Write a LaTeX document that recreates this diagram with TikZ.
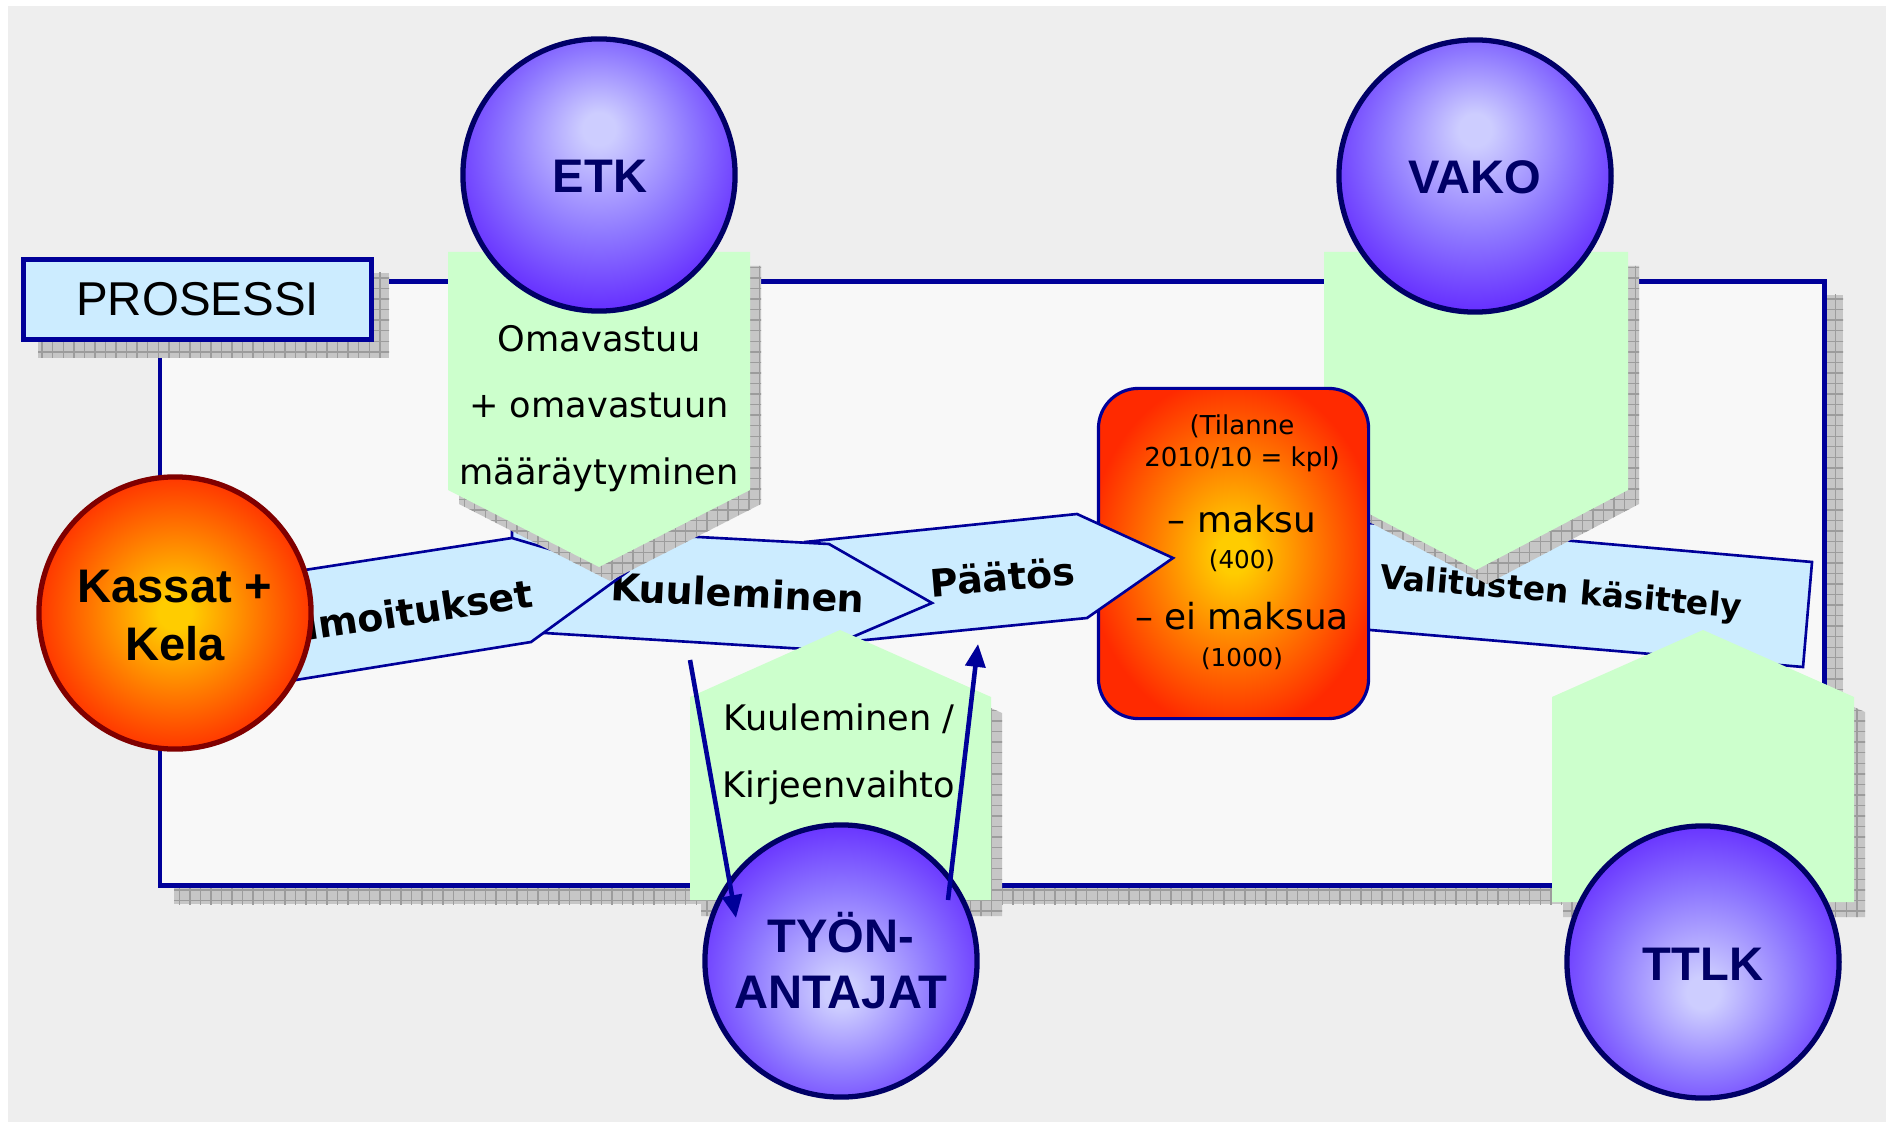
\documentclass[tikz,border=0pt]{standalone}
\usepackage{fontspec}
\setmainfont{DejaVu Sans}
\newfontfamily\arialf{Liberation Sans}
\usetikzlibrary{patterns,arrows.meta}
\definecolor{bggray}{HTML}{EEEEEE}
\definecolor{framein}{HTML}{F8F8F8}
\definecolor{navy}{HTML}{000099}
\definecolor{dnavy}{HTML}{000066}
\definecolor{lblue}{HTML}{CCECFF}
\definecolor{lgreen}{HTML}{CCFFCC}
\definecolor{shc}{HTML}{C6C6C6}
\definecolor{shl}{HTML}{9C9C9C}
\definecolor{lavc}{HTML}{CDCDFF}
\definecolor{midv}{HTML}{8E78FF}
\definecolor{edgev}{HTML}{5A1AFF}
\definecolor{fy}{HTML}{FFCC00}
\definecolor{fo}{HTML}{FF7A00}
\definecolor{fr}{HTML}{FF2A00}
\definecolor{dred}{HTML}{800000}
\pgfdeclareradialshading{violup}{\pgfpoint{0bp}{9bp}}{color(0bp)=(lavc); color(3bp)=(lavc); color(17bp)=(midv); color(32bp)=(edgev); color(50bp)=(edgev)}
\pgfdeclareradialshading{violdown}{\pgfpoint{0bp}{-6bp}}{color(0bp)=(lavc); color(3bp)=(lavc); color(17bp)=(midv); color(32bp)=(edgev); color(50bp)=(edgev)}
\pgfdeclareradialshading{fireball}{\pgfpoint{0bp}{0bp}}{color(0bp)=(fy); color(3bp)=(fy); color(15bp)=(fo); color(27bp)=(fr); color(50bp)=(fr)}
\tikzset{
 shadowbox/.style={fill=shc, postaction={pattern=grid, pattern color=shl}},
 framestyle/.style={draw=navy, line width=1.4pt, fill=framein},
 prosbox/.style={draw=navy, line width=1.4pt, fill=lblue, minimum width=3.47cm, minimum height=0.8cm, font=\arialf\fontsize{13.5}{16}\selectfont},
 flowarrow/.style={draw=navy, line width=0.75pt, fill=lblue, line join=miter},
 flowtxt/.style={font=\bfseries\fontsize{10.8}{13}\selectfont, anchor=base},
 greenshape/.style={fill=lgreen},
 greentxt/.style={font=\fontsize{10}{12}\selectfont, anchor=base},
 bluecirc/.style={circle, draw=dnavy, line width=1.5pt, minimum size=2.72cm},
 circtxt/.style={font=\arialf\bfseries\fontsize{13.4}{16}\selectfont, text=dnavy, anchor=base},
 redbox/.style={draw=navy, line width=0.9pt, rounded corners=0.4cm, minimum width=2.7cm, minimum height=3.3cm, shading=fireball},
 smalltxt/.style={font=\fontsize{7.4}{9}\selectfont, anchor=base},
 bigtxt/.style={font=\fontsize{10.2}{12}\selectfont, anchor=base},
 tinytxt/.style={font=\fontsize{7}{9}\selectfont, anchor=base},
 navyarrow/.style={draw=navy, line width=1.3pt, -{Triangle[length=6.5pt,width=5.6pt]}},
}
\begin{document}
\begin{tikzpicture}[x=0.01cm,y=-0.01cm, every node/.style={inner sep=0pt,outer sep=0pt}]
\useasboundingbox (0,0) rectangle (1886,1122);
\fill[white] (0,0) rectangle (1886,1122);
\fill[bggray] (8,6) rectangle (1886,1122);
% frame
\fill[shadowbox] (174,295) rectangle (1843,904);
\draw[framestyle] (160,281.5) rectangle (1824.5,885.5);
% PROSESSI
\fill[shadowbox] (38,273) rectangle (389,358);
\node[prosbox] (pros) at (197.5,299.5) {PROSESSI};
% Valitusten kasittely
\draw[flowarrow] (1300,517) -- (1812,562) -- (1803,667) -- (1300,624) -- cycle;
\node[flowtxt, font=\bfseries\fontsize{9.4}{12}\selectfont, rotate=-4.7] (valt) at (1560,603) {Valitusten käsittely};
% VAKO green
\fill[shadowbox, shift={(11,14)}] (1324,252) -- (1628,252) -- (1628,490) -- (1476,570) -- (1324,490) -- cycle;
\fill[greenshape] (1324,252) -- (1628,252) -- (1628,490) -- (1476,570) -- (1324,490) -- cycle;
% red box
\node[redbox] (rb) at (1233.5,553.5) {};
\node[smalltxt] (rt1) at (1242,435) {(Tilanne};
\node[smalltxt] (rt2) at (1242,467) {2010/10 = kpl)};
\node[bigtxt] (rt3) at (1242,532) {– maksu};
\node[tinytxt] (rt4) at (1242,568) {(400)};
\node[bigtxt] (rt5) at (1242,629) {– ei maksua};
\node[tinytxt] (rt6) at (1242,666) {(1000)};
% Paatos
\draw[flowarrow] (805,542) -- (1077,514) -- (1173,558) -- (1087,618) -- (805,646) -- cycle;
\node[flowtxt, rotate=4.8] (paat) at (1003.5,591) {Päätös};
% Kuuleminen
\draw[flowarrow] (512,527) -- (829,544) -- (932,603) -- (822,650) -- (512,631) -- cycle;
\node[flowtxt, rotate=-2.8] (kuul) at (737,607) {Kuuleminen};
% Ilmoitukset
\draw[flowarrow] (240,580) -- (512,538) -- (627,572) -- (531,642) -- (240,689) -- cycle;
\node[flowtxt, rotate=8.5] (ilmo) at (414,625) {Ilmoitukset};
% ETK green
\fill[shadowbox, shift={(11,14)}] (448,252) -- (750,252) -- (750,490) -- (599,567) -- (448,490) -- cycle;
\fill[greenshape] (448,252) -- (750,252) -- (750,490) -- (599,567) -- (448,490) -- cycle;
\node[greentxt] (g1) at (599,352) {Omavastuu};
\node[greentxt] (g2) at (599,418) {+ omavastuun};
\node[greentxt] (g3) at (599,485) {määräytyminen};
% Kuuleminen green
\fill[shadowbox, shift={(11,16)}] (690,697) -- (840,630) -- (991,697) -- (991,900) -- (690,900) -- cycle;
\fill[greenshape] (690,697) -- (840,630) -- (991,697) -- (991,900) -- (690,900) -- cycle;
\node[greentxt] (k1) at (839,730) {Kuuleminen /};
\node[greentxt] (k2) at (839,797) {Kirjeenvaihto};
% TTLK green
\fill[shadowbox, shift={(11,15)}] (1552,697) -- (1703,630) -- (1854,697) -- (1854,902) -- (1552,902) -- cycle;
\fill[greenshape] (1552,697) -- (1703,630) -- (1854,697) -- (1854,902) -- (1552,902) -- cycle;
% circles
\node[circle, draw=dred, line width=1.5pt, minimum size=2.72cm, shading=fireball] (kassat) at (175,613) {};
\node[circtxt, text=black] (kas1) at (175,602) {Kassat +};
\node[circtxt, text=black] (kas2) at (175,660) {Kela};
\node[bluecirc, shading=violup] (etk) at (599,175) {};
\node[circtxt] (etkt) at (600,193) {ETK};
\node[bluecirc, shading=violup] (vako) at (1475,176) {};
\node[circtxt] (vakot) at (1475,194) {VAKO};
\node[bluecirc, shading=violdown] (tyo) at (841,961) {};
\node[circtxt] (tyo1) at (841,952) {TYÖN-};
\node[circtxt] (tyo2) at (841,1008) {ANTAJAT};
\node[bluecirc, shading=violdown] (ttlk) at (1703,962) {};
\node[circtxt] (ttlkt) at (1703,980) {TTLK};
% connectors
\coordinate (a1s) at (690,660);
\coordinate (a1e) at (736,918);
\coordinate (a2s) at (948,900);
\coordinate (a2e) at (978,644);
\draw[navyarrow] (a1s) -- (a1e);
\draw[navyarrow] (a2s) -- (a2e);
\end{tikzpicture}
\end{document}
